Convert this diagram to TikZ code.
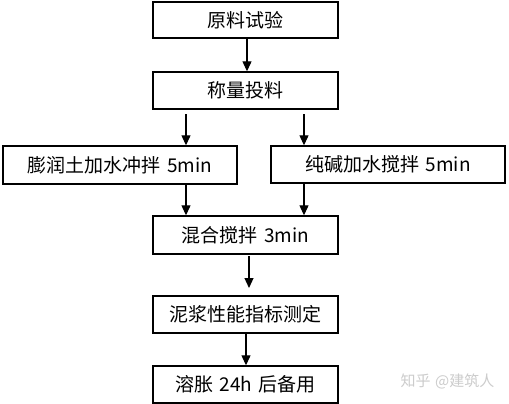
\documentclass[tikz,border=0pt]{standalone}
\usepackage{fontspec}
\setmainfont{Noto Sans CJK SC}
\usetikzlibrary{arrows.meta}
\begin{document}
\begin{tikzpicture}[x=1pt,y=-1pt,
  box/.style={draw,line width=1.4pt,minimum height=37pt,inner sep=0pt,
    font=\fontsize{19}{19}\selectfont},
  arr/.style={line width=1.2pt,-{Triangle[length=10pt,width=9pt]}}]
\useasboundingbox (0,0) rectangle (509,404);
\fill[white] (0,0) rectangle (509,404);
\node[box,minimum width=185pt,minimum height=36pt] (b1) at (245.5,20) {原料试验};
\node[box,minimum width=185pt] (b2) at (245.5,90.5) {称量投料};
\node[box,minimum width=234pt,minimum height=38pt] (b3L) at (120,165) {膨润土加水冲拌\hspace{0.35em}5min};
\node[box,minimum width=234pt] (b3R) at (388,164.5) {纯碱加水搅拌\hspace{0.35em}5min};
\node[box,minimum width=185pt,minimum height=38pt] (b4) at (245.5,235) {混合搅拌\hspace{0.35em}3min};
\node[box,minimum width=185pt] (b5) at (245.5,314.5) {泥浆性能指标测定};
\node[box,minimum width=185pt] (b6) at (245.5,384.5) {溶胀\hspace{0.35em}24h\hspace{0.35em}后备用};
\node[text=black!20,font=\fontsize{15}{15}\selectfont] (wm) at (447.5,381) {知乎\hspace{0.3em}@建筑人};
\coordinate (a1) at (247,38);
\coordinate (a2) at (186,114);
\coordinate (a3) at (304,114);
\coordinate (a4) at (249,256);
\coordinate (e4) at (249,288);
\coordinate (a5) at (246,333);
\draw[arr] (a1) -- (a1 |- b2.north);
\draw[arr] (a2) -- (a2 |- b3L.north);
\draw[arr] (a3) -- (a3 |- b3R.north);
\draw[arr] (b3L.south -| a2) -- (a2 |- b4.north);
\draw[arr] (b3R.south -| a3) -- (a3 |- b4.north);
\draw[arr] (a4) -- (e4);
\draw[arr] (a5) -- (a5 |- b6.north);
\end{tikzpicture}
\end{document}
